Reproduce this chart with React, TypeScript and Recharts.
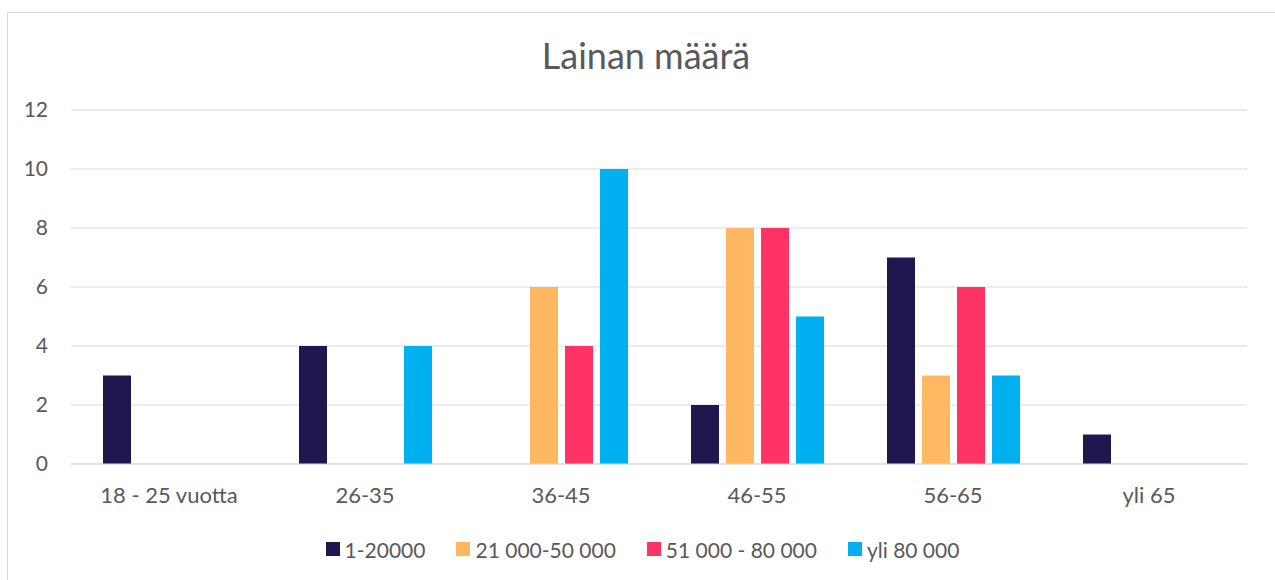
import React from 'react';
import { BarChart, Bar, XAxis, YAxis, CartesianGrid, Legend } from 'recharts';

const categories = ['18 - 25 vuotta', '26-35', '36-45', '46-55', '56-65', 'yli 65'];
const loan1to20000 = [3, 4, 0, 2, 7, 1];
const loan21to50 = [0, 0, 6, 8, 3, 0];
const loan51to80 = [0, 0, 4, 8, 6, 0];
const loanOver80 = [0, 4, 10, 5, 3, 0];
const yTicks = [0, 2, 4, 6, 8, 10, 12];

const series = [
  { key: 's1', name: '1-20000', color: '#201751', values: loan1to20000 },
  { key: 's2', name: '21 000-50 000', color: '#FFB861', values: loan21to50 },
  { key: 's3', name: '51 000 - 80 000', color: '#FF3366', values: loan51to80 },
  { key: 's4', name: 'yli 80 000', color: '#00B0F0', values: loanOver80 },
];

const data = categories.map((c, i) => {
  const row: Record<string, string | number> = { category: c };
  series.forEach(s => {
    row[s.key] = s.values[i];
  });
  return row;
});

const FONT = 'Lato, "Noto Sans", sans-serif';
const TEXT = '#595959';

function LegendContent() {
  return (
    <div style={{ display: 'flex', justifyContent: 'center', alignItems: 'center', height: 40, marginLeft: 17 }}>
      {series.map((s, i) => (
        <div key={s.key} style={{ display: 'flex', alignItems: 'center', marginRight: i < series.length - 1 ? 31 : 0 }}>
          <span style={{ display: 'inline-block', width: 14, height: 14, background: s.color, marginRight: 5 }} />
          <span style={{ fontFamily: FONT, fontSize: 21, color: TEXT }}>{s.name}</span>
        </div>
      ))}
    </div>
  );
}

export default function App() {
  return (
    <div style={{ position: 'absolute', left: 0, top: 0, width: 1275, height: 580, background: '#fff', overflow: 'hidden' }}>
      <div
        style={{
          position: 'absolute',
          left: 7,
          top: 12,
          width: 1300,
          height: 600,
          borderLeft: '1px solid #d9d9d9',
          borderTop: '1px solid #d9d9d9',
        }}
      />
      <div
        style={{
          position: 'absolute',
          left: 0,
          width: 1292,
          top: 33,
          textAlign: 'center',
          fontFamily: FONT,
          fontSize: 36,
          color: TEXT,
        }}
      >
        Lainan määrä
      </div>
      <div style={{ position: 'absolute', left: 0, top: 0 }}>
        <BarChart
          width={1275}
          height={580}
          data={data}
          margin={{ top: 110, right: 28, left: 21, bottom: 36 }}
          barSize={28}
          barGap={7}
        >
          <CartesianGrid vertical={false} stroke="#d9d9d9" />
          <XAxis
            dataKey="category"
            height={40}
            tickLine={false}
            tickSize={0}
            tickMargin={23}
            axisLine={{ stroke: '#d9d9d9' }}
            tick={{ fill: TEXT, fontSize: 22, fontFamily: FONT }}
          />
          <YAxis
            width={50}
            domain={[0, 12]}
            ticks={yTicks}
            tickLine={false}
            axisLine={false}
            tickSize={0}
            tickMargin={23}
            tick={{ fill: TEXT, fontSize: 21, fontFamily: FONT }}
          />
          <Legend verticalAlign="bottom" height={40} wrapperStyle={{ bottom: 11 }} content={<LegendContent />} />
          {series.map(s => (
            <Bar key={s.key} dataKey={s.key} name={s.name} fill={s.color} isAnimationActive={false} />
          ))}
        </BarChart>
      </div>
    </div>
  );
}
